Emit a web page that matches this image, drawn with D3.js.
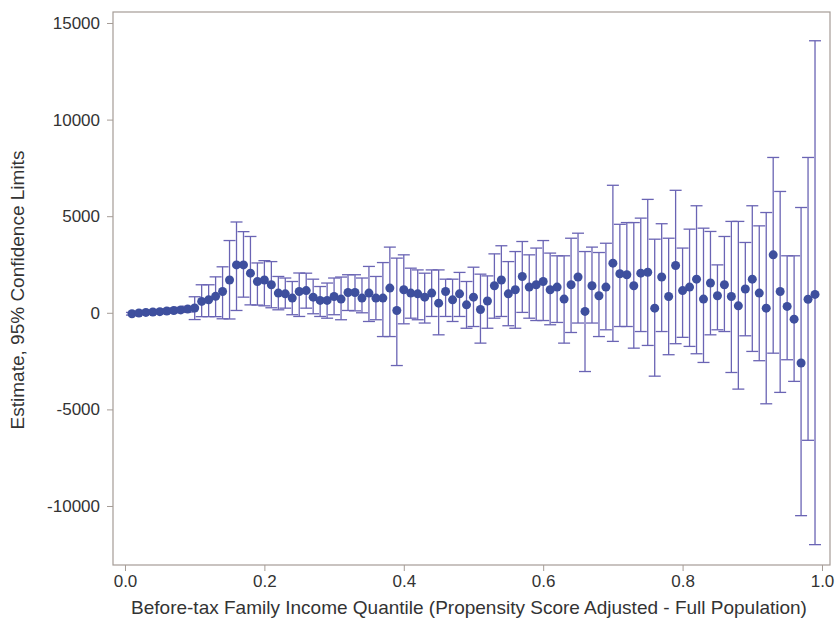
<!DOCTYPE html>
<html>
<head>
<meta charset="utf-8">
<script src="https://cdn.jsdelivr.net/npm/d3@7"></script>
<style>
  body { margin: 0; background: #fff; }
  svg { display: block; }
</style>
</head>
<body>
<svg width="837" height="623"></svg>
<script>
// quantiles 0.01 .. 0.99
var quantiles = d3.range(1, 100).map(function(i) { return i / 100; });

var estimate = [
    -50, -10, 20, 40, 60, 90, 120, 150, 190, 250,
    590, 670, 850, 1100, 1700, 2480, 2480, 2050, 1620, 1700,
    1450, 1020, 980, 760, 1100, 1150, 810, 640, 640, 845,
    710, 1050, 1050, 760, 1020, 760, 760, 1280, 120, 1190,
    1020, 980, 810, 1020, 500, 1100, 670, 980, 410, 810,
    170, 610, 1400, 1700, 980, 1190, 1880, 1330, 1450, 1620,
    1190, 1330, 710, 1450, 1850, 70, 1400, 880, 1330, 2570,
    2020, 1970, 1400, 2050, 2100, 240, 1850, 845, 2450, 1150,
    1330, 1740, 710, 1540, 880, 1450, 845, 360, 1230, 1740,
    1020, 240, 3000, 1100, 330, -330, -2600, 700, 950
];

var lowerCL = [
    -120, -90, -70, -50, -40, -20, 0, 20, 40, -350,
    -200, -200, -200, -310, -320, 120, 810, 410, 400, 360,
    260, 155, 240, -100, -190, 240, -50, -190, -280, -100,
    -360, 120, 100, 0, -450, -360, -1230, -1230, -2730, -570,
    -280, -360, -530, -190, -1140, -190, -450, -190, -800, -710,
    -1570, -800, -280, -190, -670, -800, 20, -280, -400, -400,
    -620, -500, -1570, -1020, -530, -3040, -530, -1230, -880, -1480,
    -710, -710, -1830, -970, -1690, -3280, -970, -2170, -1600, -1270,
    -1740, -2120, -2570, -1140, -880, -970, -3090, -3950, -1190, -2000,
    -2480, -4710, -2090, -4120, -2430, -3550, -10500, -6600, -12000
];

var upperCL = [
    20, 70, 110, 130, 160, 200, 240, 280, 340, 830,
    1450, 1450, 1860, 2380, 3740, 4700, 4200, 3950, 2580, 2700,
    2650, 1880, 1800, 1620, 2060, 2050, 1740, 1360, 1540, 1800,
    1850, 1970, 1970, 1800, 2400, 1880, 2600, 3400, 2830, 3000,
    2310, 2220, 2050, 2220, 2220, 1740, 1740, 2090, 1620, 2360,
    2000, 1910, 3050, 3470, 2650, 3170, 3690, 3000, 3350, 3740,
    3090, 2950, 2950, 3860, 4120, 3170, 3400, 3120, 3600, 6600,
    4580, 4670, 4670, 4900, 5870, 3810, 4610, 3860, 6340, 3350,
    4330, 5540, 4380, 4210, 2480, 3950, 4730, 4730, 3640, 5540,
    4500, 5190, 8040, 6280, 2950, 2950, 5450, 8040, 14080
];

var xTicks = [0, 0.2, 0.4, 0.6, 0.8, 1.0];
var yTicks = [-10000, -5000, 0, 5000, 10000, 15000];

var data = quantiles.map(function(q, i) {
    return {q: q, est: estimate[i], lo: lowerCL[i], hi: upperCL[i]};
});

var svg = d3.select('svg');

var plot = {l: 113, r: 830, t: 12, b: 565};
var font = 'Liberation Sans, Arial, sans-serif';

var xScale = d3.scaleLinear()
    .domain([-0.0172, 1.0115])
    .range([plot.l, plot.r]);

var yScale = d3.scaleLinear()
    .domain([-13054, 15569])
    .range([plot.b, plot.t]);

var frameColor = '#a59c96';
var textColor = '#333333';
var dotColor = '#3e4f9e';
var barColor = '#6a64b4';

// frame
svg.append('rect')
    .attr('x', plot.l)
    .attr('y', plot.t)
    .attr('width', plot.r - plot.l)
    .attr('height', plot.b - plot.t)
    .attr('fill', 'none')
    .attr('stroke', frameColor)
    .attr('stroke-width', 1.2);

// axes
var xAxis = d3.axisBottom(xScale)
    .tickValues(xTicks)
    .tickSize(6)
    .tickPadding(4)
    .tickFormat(d3.format('.1f'));

var yAxis = d3.axisLeft(yScale)
    .tickValues(yTicks)
    .tickSize(6)
    .tickPadding(7)
    .tickFormat(function(d) { return String(d); }); // plain hyphen, like SAS

var gx = svg.append('g')
    .attr('class', 'x axis')
    .attr('transform', 'translate(0,' + plot.b + ')')
    .call(xAxis);

var gy = svg.append('g')
    .attr('class', 'y axis')
    .attr('transform', 'translate(' + plot.l + ',0)')
    .call(yAxis);

[gx, gy].forEach(function(g) {
    g.select('.domain').remove();
    g.selectAll('.tick line').attr('stroke', frameColor);
    g.selectAll('.tick text')
        .attr('fill', textColor)
        .attr('font-family', font)
        .attr('font-size', '17px');
});

// axis titles
svg.append('text')
    .attr('x', 469)
    .attr('y', 614)
    .attr('text-anchor', 'middle')
    .attr('fill', textColor)
    .attr('font-family', font)
    .attr('font-size', '19px')
    .text('Before-tax Family Income Quantile (Propensity Score Adjusted - Full Population)');

svg.append('text')
    .attr('transform', 'translate(24,' + 290 + ') rotate(-90)')
    .attr('text-anchor', 'middle')
    .attr('fill', textColor)
    .attr('font-family', font)
    .attr('font-size', '19px')
    .text('Estimate, 95% Confidence Limits');

// error bars
var cap = 6;
var bars = svg.append('g').attr('class', 'bars')
    .selectAll('g')
    .data(data)
    .enter()
    .append('g')
    .attr('stroke', barColor)
    .attr('stroke-width', 1.3)
    .attr('fill', 'none');

bars.append('line')
    .attr('x1', function(d) { return xScale(d.q); })
    .attr('x2', function(d) { return xScale(d.q); })
    .attr('y1', function(d) { return yScale(d.lo); })
    .attr('y2', function(d) { return yScale(d.hi); });

bars.append('line')
    .attr('x1', function(d) { return xScale(d.q) - cap; })
    .attr('x2', function(d) { return xScale(d.q) + cap; })
    .attr('y1', function(d) { return yScale(d.lo); })
    .attr('y2', function(d) { return yScale(d.lo); });

bars.append('line')
    .attr('x1', function(d) { return xScale(d.q) - cap; })
    .attr('x2', function(d) { return xScale(d.q) + cap; })
    .attr('y1', function(d) { return yScale(d.hi); })
    .attr('y2', function(d) { return yScale(d.hi); });

// estimates
svg.append('g').attr('class', 'dots')
    .selectAll('circle')
    .data(data)
    .enter()
    .append('circle')
    .attr('cx', function(d) { return xScale(d.q); })
    .attr('cy', function(d) { return yScale(d.est); })
    .attr('r', 4.5)
    .attr('fill', dotColor);
</script>
</body>
</html>
